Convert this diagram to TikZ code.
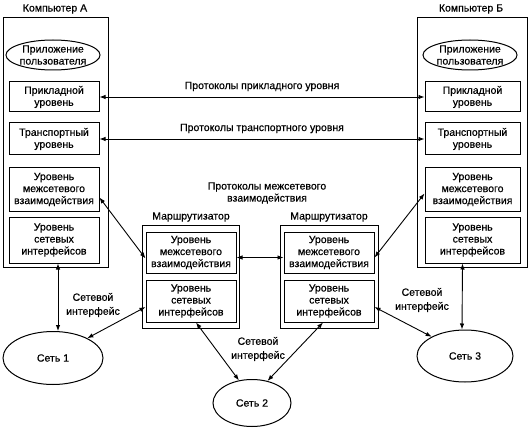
\documentclass[tikz,border=0pt]{standalone}
\usepackage{fontspec}
\setmainfont{Liberation Sans}[FakeBold=0.5]
\usetikzlibrary{arrows.meta,shapes.geometric}

\begin{document}
\begin{tikzpicture}[x=1pt,y=-1pt]
\tikzset{every node/.style={font=\fontsize{10.5}{12}\selectfont,align=center}}
\tikzset{layer/.style={draw,line width=1pt,minimum width=90pt,inner sep=1pt}}
\tikzset{host/.style={draw,line width=1pt,inner sep=0pt}}
\tikzset{app/.style={draw,ellipse,line width=1pt,minimum width=90pt,minimum height=30pt,inner sep=0pt}}
\tikzset{net/.style={draw,ellipse,line width=1pt,inner sep=0pt}}
\tikzset{link/.style={{Latex[length=6pt,width=4.5pt]}-{Latex[length=6pt,width=4.5pt]},line width=0.9pt}}
\tikzset{iface/.style={font=\fontsize{10.5}{14}\selectfont}}

\useasboundingbox (0,0) rectangle (529,430);

% computer A
\node (titlea) at (55,9) {Компьютер А};
\node[host,minimum width=105pt,minimum height=249pt] (hosta) at (55.5,142.5) {};
\node[app] (appa) at (53,55) {Приложение\\пользователя};
\node[layer,minimum height=30pt] (aapp) at (54,97) {Прикладной\\уровень};
\node[layer,minimum height=32pt] (atrans) at (54,139) {Транспортный\\уровень};
\node[layer,minimum height=43pt] (anet) at (54,189.5) {Уровень\\межсетевого\\взаимодействия};
\node[layer,minimum height=46pt] (alink) at (54,240) {Уровень\\сетевых\\интерфейсов};

% computer B
\node (titleb) at (471,9) {Компьютер Б};
\node[host,minimum width=110pt,minimum height=249pt] (hostb) at (472,142.5) {};
\node[app] (appb) at (470,55) {Приложение\\пользователя};
\node[layer,minimum height=30pt,minimum width=95pt] (bapp) at (472.5,97) {Прикладной\\уровень};
\node[layer,minimum height=32pt,minimum width=95pt] (btrans) at (472.5,139) {Транспортный\\уровень};
\node[layer,minimum height=43pt,minimum width=95pt] (bnet) at (472.5,189.5) {Уровень\\межсетевого\\взаимодействия};
\node[layer,minimum height=46pt,minimum width=95pt] (blink) at (472.5,240) {Уровень\\сетевых\\интерфейсов};

% routers
\node (titler1) at (191,217) {Маршрутизатор};
\node[host,minimum width=97pt,minimum height=103pt] (router1) at (190.5,276.5) {};
\node[layer,minimum height=41pt] (rnet1) at (191,252.5) {Уровень\\межсетевого\\взаимодействия};
\node[layer,minimum height=42pt] (rlink1) at (191,301) {Уровень\\сетевых\\интерфейсов};

\node (titler2) at (329,217) {Маршрутизатор};
\node[host,minimum width=98pt,minimum height=103pt] (router2) at (329,276.5) {};
\node[layer,minimum height=41pt] (rnet2) at (329,252.5) {Уровень\\межсетевого\\взаимодействия};
\node[layer,minimum height=42pt] (rlink2) at (329,301) {Уровень\\сетевых\\интерфейсов};

% networks
\node[net,minimum width=100pt,minimum height=53pt] (net1) at (53,358) {Сеть 1};
\node[net,minimum width=78pt,minimum height=47pt] (net2) at (252,403) {Сеть 2};
\node[net,minimum width=96pt,minimum height=52pt] (net3) at (465,356) {Сеть 3};

% protocols
\draw[link] (aapp.east) -- node[above=2pt] (papp) {Протоколы прикладного уровня} (bapp.west);
\draw[link] (atrans.east) -- node[above=2pt] (ptrans) {Протоколы транспортного уровня} (btrans.west);
\node (pnet) at (267,193) {Протоколы межсетевого\\взаимодействия};
\draw[link] ([yshift=-8pt]anet.east) -- ([yshift=-6pt]rnet1.west);
\draw[link] ([yshift=-5pt]rnet1.east) -- ([yshift=-5pt]rnet2.west);
\draw[link] ([yshift=-5pt]rnet2.east) -- ([yshift=-4pt]bnet.west);

% network interfaces
\draw[link] ([xshift=4pt]alink.south) -- ([xshift=5pt]net1.north);
\draw[link] ([xshift=-10pt]blink.south) -- ([xshift=-3pt]net3.north);
\draw[link] ([yshift=-6pt]rlink1.west) -- (net1.30);
\draw[link] ([xshift=5pt]rlink1.south) -- (net2.120);
\draw[link] ([xshift=-6pt]rlink2.south) -- (net2.55);
\draw[link] ([yshift=-6pt]rlink2.east) -- (net3.150);
\node[iface] (if1) at (93,305) {Сетевой\\интерфейс};
\node[iface] (if2) at (258,349) {Сетевой\\интерфейс};
\node[iface] (if3) at (422,300) {Сетевой\\интерфейс};

\end{tikzpicture}
\end{document}
